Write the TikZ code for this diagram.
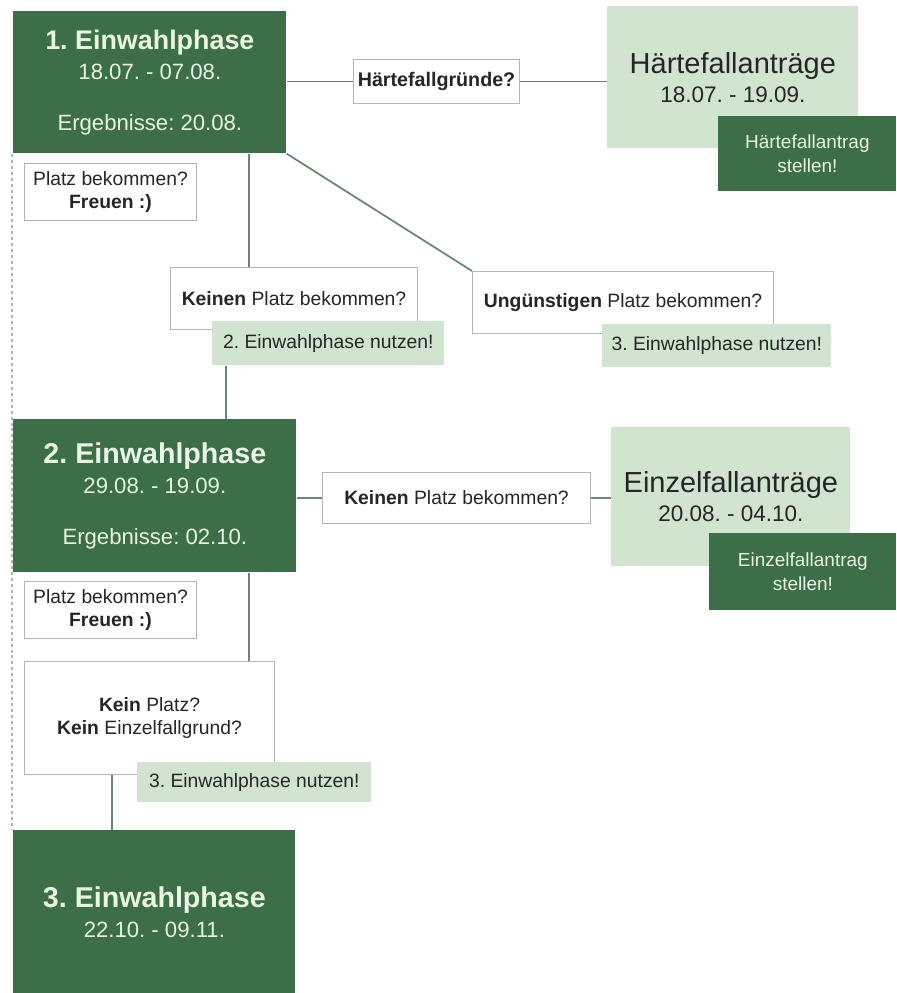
\documentclass[tikz,border=0pt]{standalone}
\usepackage{fontspec}
\setmainfont{Liberation Sans}
\usetikzlibrary{positioning,calc,backgrounds}

\definecolor{dkgreen}{HTML}{3C6E47}
\definecolor{ltgreen}{HTML}{D0E4CF}
\definecolor{mint}{HTML}{E9F6E4}
\definecolor{linegray}{HTML}{6A8670}
\definecolor{boxgray}{HTML}{B4B8B4}

\tikzset{boxsize/.style 2 args={minimum width=#1*0.02cm, minimum height=#2*0.02cm, anchor=north west}}

\begin{document}
\frenchspacing
\begin{tikzpicture}[x=0.02cm,y=-0.02cm]
\tikzstyle{every node}+=[inner sep=0pt]
\tikzstyle{phase}=[fill=dkgreen, text=mint, align=center, font=\fontsize{12.6}{17}\selectfont]
\tikzstyle{antrag}=[fill=ltgreen, text=black!85, align=center, font=\fontsize{12.8}{16.5}\selectfont]
\tikzstyle{stellen}=[fill=dkgreen, text=mint, align=center, font=\fontsize{10.8}{13.5}\selectfont]
\tikzstyle{frage}=[fill=white, draw=boxgray, line width=0.6pt, text=black!85, align=center, font=\fontsize{11}{13.5}\selectfont]
\tikzstyle{nutzen}=[fill=ltgreen, text=black!85, font=\fontsize{11}{13.5}\selectfont]
\tikzstyle{link}=[draw=linegray, line width=1pt]

\useasboundingbox (0,0) rectangle (896,993);

\node [phase, boxsize={273}{142}] (ew1) at (13,11) {{\fontsize{15.3}{17}\selectfont\bfseries 1. Einwahlphase}\\18.07. - 07.08.\\[12pt]Ergebnisse: 20.08.};
\node [frage, boxsize={166}{44}, font=\fontsize{11.2}{13.5}\selectfont\bfseries] (hfrage) at (353,59) {Härtefallgründe?};
\node [antrag, boxsize={251}{142}] (haerte) at (607,6) {{\fontsize{16.5}{16.5}\selectfont Härtefallanträge}\\18.07. - 19.09.};
\node [stellen, boxsize={178}{75}] (hstellen) at (718,116) {Härtefallantrag\\stellen!};
\node [frage, boxsize={172}{57}] (platz1) at (24,163) {Platz bekommen?\\\textbf{Freuen :)}};
\node [frage, boxsize={247}{62}] (kein1) at (170,267) {\textbf{Keinen} Platz bekommen?};
\node [nutzen, boxsize={232}{44}] (nutzen2) at (212,321) {2. Einwahlphase nutzen!};
\node [frage, boxsize={301}{62}] (ung) at (472,271) {\textbf{Ungünstigen} Platz bekommen?};
\node [nutzen, boxsize={229}{43}] (nutzen3a) at (602,324) {3. Einwahlphase nutzen!};

\node [phase, boxsize={283}{153}] (ew2) at (13,419) {{\fontsize{16.3}{17}\selectfont\bfseries 2. Einwahlphase}\\29.08. - 19.09.\\[12pt]Ergebnisse: 02.10.};
\node [frage, boxsize={268}{51}] (kein2) at (322,472) {\textbf{Keinen} Platz bekommen?};
\node [antrag, boxsize={239}{139}] (einzel) at (611,427) {{\fontsize{16.5}{16.5}\selectfont Einzelfallanträge}\\20.08. - 04.10.};
\node [stellen, boxsize={187}{77}] (estellen) at (709,533) {Einzelfallantrag\\stellen!};
\node [frage, boxsize={172}{57}] (platz2) at (24,581) {Platz bekommen?\\\textbf{Freuen :)}};
\node [frage, boxsize={250}{113}] (keinplatz) at (24,661) {\textbf{Kein} Platz?\\\textbf{Kein} Einzelfallgrund?};
\node [nutzen, boxsize={234}{40}] (nutzen3b) at (137,762) {3. Einwahlphase nutzen!};

\node [phase, boxsize={282}{163}] (ew3) at (13,830) {{\fontsize{16.3}{17}\selectfont\bfseries 3. Einwahlphase}\\22.10. - 09.11.};

\draw [link] (ew1.east |- hfrage.west) -- (hfrage.west);
\draw [link] (hfrage.east) -- (hfrage.east -| haerte.west);
\draw [link] ($(kein1.north west)+(79,0)$) coordinate (k1) -- (k1 |- ew1.south);
\draw [link] (ew1.south east) -- (ung.north west);
\draw [link] ($(nutzen2.south west)+(14,0)$) coordinate (n2) -- (n2 |- ew2.north);
\draw [link] (ew2.east |- kein2.west) -- (kein2.west);
\draw [link] (kein2.east) -- (kein2.east -| einzel.west);
\draw [link] ($(ew2.south west)+(236,0)$) coordinate (e2) -- (e2 |- keinplatz.north);
\draw [link] ($(keinplatz.south west)+(88,0)$) coordinate (kp) -- (kp |- ew3.north);

\begin{scope}[on background layer]
\draw [boxgray, line width=0.9pt, dash pattern=on 1.7pt off 1.7pt] ([xshift=-0.02cm]ew1.south west) -- ([xshift=-0.02cm]ew3.north west);
\end{scope}
\end{tikzpicture}
\end{document}
